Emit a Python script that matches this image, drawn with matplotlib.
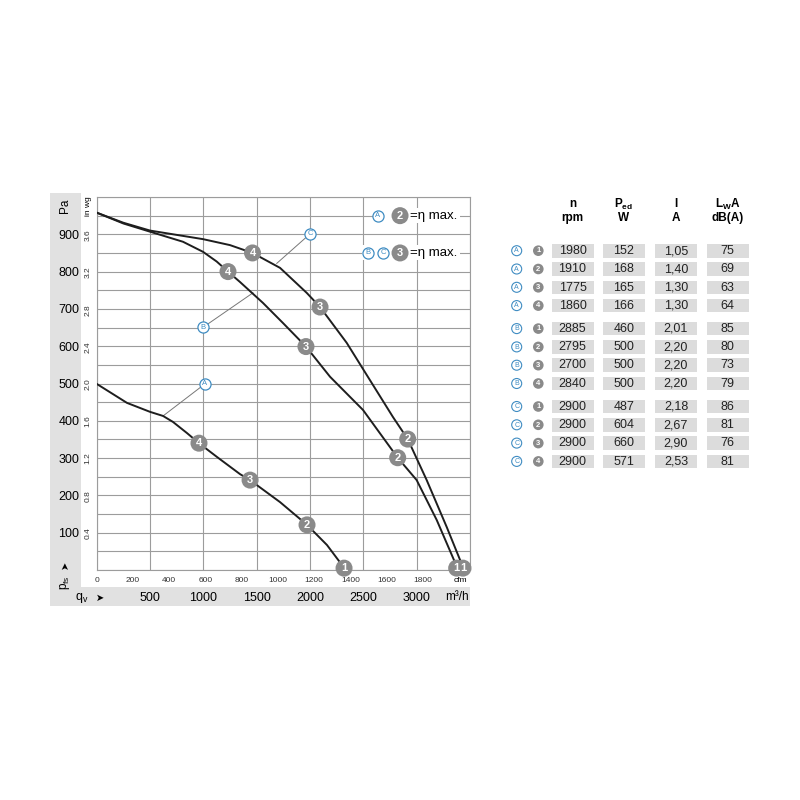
import numpy as np
import matplotlib.pyplot as plt
from matplotlib.patches import Rectangle, Circle
from matplotlib.transforms import blended_transform_factory

plt.rcParams['font.family'] = ['Liberation Sans Narrow', 'Liberation Sans', 'DejaVu Sans']

# fan curves, q_v in m3/h, p_fs in Pa
qa = [0, 284, 500, 622, 715, 847, 959, 1128, 1344, 1438, 1719, 1972, 2159, 2335]
pa = [499, 448, 424, 413, 397, 367, 340, 303, 257, 241, 182, 121, 67, 0]
qb = [0, 250, 500, 809, 997, 1125, 1231, 1344, 1559, 1747, 1962, 2188, 2497, 2822, 3000, 3188, 3390]
pb = [958, 929, 907, 880, 853, 827, 800, 772, 716, 662, 599, 518, 429, 301, 241, 134, 0]
qc = [0, 250, 500, 997, 1250, 1461, 1719, 1969, 2094, 2344, 2562, 2778, 2916, 3094, 3282, 3445]
pc = [958, 931, 910, 887, 871, 850, 810, 743, 705, 609, 509, 410, 351, 241, 115, 0]

# operating points 4,3,2,1 on each curve
pt_num = ['4', '3', '2', '1']
pt_qa = [959, 1438, 1972, 2319]
pt_pa = [340, 241, 121, 5]
pt_qb = [1231, 1962, 2822, 3375]
pt_pb = [800, 599, 301, 5]
pt_qc = [1461, 2094, 2916, 3434]
pt_pc = [850, 705, 351, 5]

# callouts: label, label pos, point on curve
call_lbl = ['A', 'B', 'C']
call_q = [1015, 999, 2000]
call_p = [499, 651, 901]
call_q2 = [622, 1465, 1688]
call_p2 = [413, 743, 822]

# table
tab_speed = ['A'] * 4 + ['B'] * 4 + ['C'] * 4
tab_point = ['1', '2', '3', '4'] * 3
tab_n = ['1980', '1910', '1775', '1860', '2885', '2795', '2700', '2840', '2900', '2900', '2900', '2900']
tab_p = ['152', '168', '165', '166', '460', '500', '500', '500', '487', '604', '660', '571']
tab_i = ['1,05', '1,40', '1,30', '1,30', '2,01', '2,20', '2,20', '2,20', '2,18', '2,67', '2,90', '2,53']
tab_l = ['75', '69', '63', '64', '85', '80', '73', '79', '86', '81', '76', '81']
tab_head1 = ['n', 'P$_\\mathregular{ed}$', 'I', 'L$_\\mathregular{W}$A']
tab_head2 = ['rpm', 'W', 'A', 'dB(A)']

cfm_ticks = [0, 200, 400, 600, 800, 1000, 1200, 1400, 1600, 1800]
inwg_ticks = [0.4, 0.8, 1.2, 1.6, 2.0, 2.4, 2.8, 3.2, 3.6]

BLUE = '#3f8cc2'
GRAY = '#8a8a8a'
BAND = '#e1e1e1'
GRID = '#9c9c9c'

fig = plt.figure(figsize=(8, 8), dpi=100)

# pixel layout layer
lay = fig.add_axes([0, 0, 1, 1])
lay.set_xlim(0, 800)
lay.set_ylim(800, 0)
lay.axis('off')
lay.add_patch(Rectangle((50, 193), 31, 413, color=BAND, lw=0))
lay.add_patch(Rectangle((50, 587), 420, 19, color=BAND, lw=0))
lay.text(65, 206, 'Pa', rotation=90, ha='center', va='center', fontsize=8.5)
lay.text(88, 206, 'in wg', rotation=90, ha='center', va='center', fontsize=6)
lay.text(65, 565, '➤', rotation=90, ha='center', va='center', fontsize=7,
         family=['DejaVu Sans'])
lay.text(65, 583, 'p$_\\mathregular{fs}$', rotation=90, ha='center', va='center', fontsize=8.5)
lay.text(82, 598, 'q$_\\mathregular{v}$', ha='center', va='center', fontsize=9)
lay.text(100, 598, '➤', ha='center', va='center', fontsize=7, family=['DejaVu Sans'])
lay.text(460, 580, 'cfm', ha='center', va='center', fontsize=6)
lay.text(457, 597, 'm³/h', ha='center', va='center', fontsize=8.5)

# table
col_x = [572.5, 624, 676, 727.5]
for cx, h1, h2 in zip(col_x, tab_head1, tab_head2):
    lay.text(cx, 204, h1, ha='center', va='center', fontsize=8.5, weight='bold')
    lay.text(cx, 218, h2, ha='center', va='center', fontsize=8.5, weight='bold')
for i in range(len(tab_n)):
    y = 250.7 + 18.3 * i + 4.7 * (i // 4)
    lay.add_patch(Circle((516.7, y), 5, facecolor='white', edgecolor=BLUE, lw=0.8))
    lay.text(516.7, y + 0.3, tab_speed[i], ha='center', va='center', fontsize=5, color=BLUE)
    lay.add_patch(Circle((538.3, y), 5.3, facecolor=GRAY, edgecolor='none'))
    lay.text(538.3, y + 0.3, tab_point[i], ha='center', va='center', fontsize=5.5,
             color='white', weight='bold')
    for cx, v in zip(col_x, [tab_n[i], tab_p[i], tab_i[i], tab_l[i]]):
        lay.add_patch(Rectangle((cx - 21, y - 6.8), 42, 13.6, color='#dcdcdc', lw=0))
        lay.text(cx, y + 0.3, v, ha='center', va='center', fontsize=9, color='#222222')

# main chart
ax = fig.add_axes([96.7 / 800, 1 - 570 / 800, 373.3 / 800, 373 / 800])
ax.set_xlim(0, 3500)
ax.set_ylim(0, 1000)
ax.set_axisbelow(True)
yt = np.arange(0, 1001, 50)
ax.set_yticks(yt)
ax.set_yticklabels([str(v) if v % 100 == 0 and 0 < v < 1000 else '' for v in yt], fontsize=9)
xt = np.arange(0, 3501, 500)
ax.set_xticks(xt)
ax.set_xticklabels([str(v) if 0 < v < 3500 else '' for v in xt], fontsize=9)
ax.tick_params(axis='y', length=0, pad=12.5)
ax.tick_params(axis='x', length=0, pad=15.5)
ax.grid(True, color=GRID, lw=0.8)
for s in ax.spines.values():
    s.set_color(GRID)
    s.set_linewidth(0.8)

# secondary scales
tr_y = blended_transform_factory(fig.transFigure, ax.transData)
for v in inwg_ticks:
    ax.text(88 / 800, v * 249.09, f'{v:.1f}', transform=tr_y, rotation=90,
            ha='center', va='center', fontsize=6, color='#333333')
tr_x = blended_transform_factory(ax.transData, fig.transFigure)
for v in cfm_ticks:
    ax.text(v * 1.699, 1 - 580 / 800, str(v), transform=tr_x,
            ha='center', va='center', fontsize=6, color='#333333')

# curves
for q, p in [(qa, pa), (qb, pb), (qc, pc)]:
    ax.plot(q, p, color='#1e1e1e', lw=1.4, zorder=3, solid_capstyle='round')

# callouts
for lb, q1, p1, q2, p2 in zip(call_lbl, call_q, call_p, call_q2, call_p2):
    ax.plot([q1, q2], [p1, p2], color='#777777', lw=0.7, zorder=2.5)
    ax.plot(q1, p1, 'o', ms=8, mfc='white', mec=BLUE, mew=0.9, zorder=4)
    ax.text(q1, p1, lb, ha='center', va='center', fontsize=5.5, color=BLUE, zorder=5)

# operating points
for q, p in [(pt_qa, pt_pa), (pt_qb, pt_pb), (pt_qc, pt_pc)]:
    ax.scatter(q, p, s=150, color=GRAY, edgecolors='none', zorder=5, clip_on=False)
    for qq, pp, n in zip(q, p, pt_num):
        ax.text(qq, pp, n, ha='center', va='center', fontsize=8, color='white',
                weight='bold', zorder=6, clip_on=False)

# eta max notes
ax.add_patch(Rectangle((2590, 930), 820, 40, color='white', lw=0, zorder=1))
ax.add_patch(Rectangle((2490, 830), 920, 40, color='white', lw=0, zorder=1))
for lbls, lx, yy in [(['A'], [2637], 950), (['B', 'C'], [2543, 2684], 850)]:
    for lb, x in zip(lbls, lx):
        ax.plot(x, yy, 'o', ms=8, mfc='white', mec=BLUE, mew=0.9, zorder=4)
        ax.text(x, yy, lb, ha='center', va='center', fontsize=5.5, color=BLUE, zorder=5)
    num = '2' if yy == 950 else '3'
    ax.scatter([2844], [yy], s=150, color=GRAY, edgecolors='none', zorder=5)
    ax.text(2844, yy, num, ha='center', va='center', fontsize=8, color='white',
            weight='bold', zorder=6)
    ax.text(2940, yy, '=η max.', ha='left', va='center', fontsize=9.5, zorder=6)

fig.savefig('out.png', dpi=100, facecolor='white')
